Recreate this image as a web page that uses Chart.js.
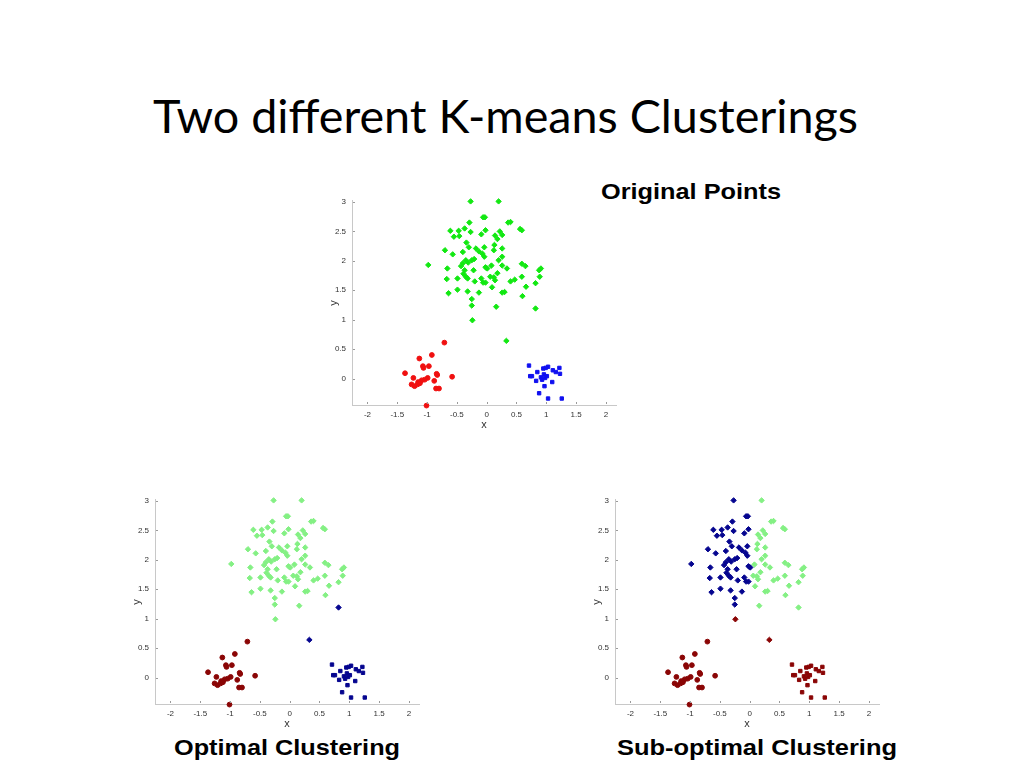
<!DOCTYPE html>
<html><head><meta charset="utf-8">
<script src="https://cdn.jsdelivr.net/npm/chart.js@4.4.1/dist/chart.umd.min.js"></script>
<style>
html,body{margin:0;padding:0;background:#fff;width:1024px;height:768px;overflow:hidden;}
.box{position:absolute;width:310px;height:245px;}
.txt{position:absolute;white-space:nowrap;line-height:1;transform-origin:0 0;color:#000;}
#title{font-family:Lato,'Open Sans',sans-serif;font-size:46px;}
.sub{font-family:'Liberation Sans',Arial,sans-serif;font-weight:bold;font-size:22px;}
</style></head><body>
<div id="title" class="txt" data-w="705" style="left:153px;top:92.5px">Two different K-means Clusterings</div>
<div class="txt sub" data-w="180" style="left:601px;top:180.7px">Original Points</div>
<div class="txt sub" data-w="226" style="left:174px;top:737.4px">Optimal Clustering</div>
<div class="txt sub" data-w="280" style="left:617px;top:737.4px">Sub-optimal Clustering</div>
<div class="box" style="left:319.8px;top:190.1px"><canvas id="c1"></canvas></div>
<div class="box" style="left:123.2px;top:489.1px"><canvas id="c2"></canvas></div>
<div class="box" style="left:583.2px;top:489.1px"><canvas id="c3"></canvas></div>
<script>
// ---- data ----
const xTicks = [-2, -1.5, -1, -0.5, 0, 0.5, 1, 1.5, 2];
const yTicks = [0, 0.5, 1, 1.5, 2, 2.5, 3];
const xMin = -2.26, xMax = 2.17, yMin = -0.45, yMax = 3.02;

// circles (cluster around -1, 0)
const circleX = [-0.71,-1.13,-0.92,-1.07,-0.97,-1.06,-1.37,-1.23,-0.84,-0.83,-0.58,-1.04,-0.99,-1.09,-1.15,-0.88,-1.26,-1.21,-1.16,-1.12,-0.85,-0.80,-1.01];
const circleY = [0.61,0.34,0.40,0.21,0.21,0.18,0.09,0.01,0.08,0.06,0.03,-0.02,0.01,-0.03,-0.06,-0.04,-0.10,-0.13,-0.10,-0.08,-0.17,-0.17,-0.46];

// squares (cluster around 1, 0)
const squareX = [0.71,1.03,0.95,0.99,1.22,1.11,0.85,1.16,1.23,0.96,0.73,0.76,0.91,0.98,0.93,0.83,1.10,0.97,0.88,1.03,1.26,1.01];
const squareY = [0.22,0.20,0.17,0.18,0.18,0.14,0.11,0.11,0.08,0.07,0.04,0.04,0.02,0.01,-0.02,-0.04,-0.06,-0.13,-0.25,-0.34,-0.34,0.04];

// diamonds, left part of the big cluster
const diamondLeftX = [-0.27,-0.06,-0.03,-0.29,-0.61,-0.47,-0.37,-0.46,-0.55,-0.27,-0.02,-0.09,-0.34,-0.30,-0.70,-0.57,-0.40,-0.18,-0.13,-0.04,-0.07,-0.04,-0.21,-0.25,-0.35,-0.40,-0.31,-0.43,-0.37,-0.22,-0.02,0.01,-0.98,-0.66,-0.67,-0.49,-0.39,-0.35,-0.32,-0.20,-0.09,-0.06,-0.02,-0.64,-0.49,-0.32,-0.13,-0.25,-0.25];
const diamondLeftY = [3.01,2.74,2.74,2.65,2.51,2.51,2.55,2.42,2.41,2.49,2.52,2.45,2.31,2.23,2.18,2.11,2.15,2.21,2.16,2.23,2.12,2.07,2.03,2.01,2.01,1.96,1.97,1.91,1.84,1.84,1.89,1.87,1.93,1.87,1.69,1.70,1.78,1.73,1.70,1.65,1.70,1.63,1.63,1.45,1.51,1.48,1.46,1.35,1.24];

// diamonds, right part of the big cluster
const diamondRightX = [0.20,0.40,0.36,0.56,0.59,0.22,0.26,0.14,0.18,0.13,0.26,0.12,0.26,0.20,0.08,0.26,0.34,0.18,0.12,0.06,0.14,0.09,0.40,0.47,0.59,0.59,0.65,0.66,0.82,0.88,0.91,0.89,0.26,0.30,0.60,0.16];
const diamondRightY = [3.01,2.66,2.65,2.54,2.52,2.50,2.44,2.43,2.37,2.27,2.21,2.18,2.07,2.01,1.92,1.92,1.87,1.79,1.72,1.73,1.67,1.55,1.65,1.68,1.73,1.95,1.91,1.56,1.62,1.84,1.87,1.73,1.46,1.47,1.40,1.22];

// diamonds lying between the clusters, and the cluster each one gets
const diamondOddX = [-0.24, 0.33, 0.82];
const diamondOddY = [0.99, 0.64, 1.19];
const oddOptimal = ['lightgreen', 'navy', 'navy'];
const oddSubOptimal = ['darkred', 'darkred', 'lightgreen'];

// ---- helpers ----
const COL = {green:'#12e812', red:'#f01010', blue:'#1010f0', darkred:'#8a0505', navy:'#05058f', lightgreen:'#84f084'};
const pts = (xs, ys) => xs.map((v, i) => ({x: v, y: ys[i]}));
const pick = (xs, labels, want) => xs.filter((v, i) => labels[i] === want);

function ds(data, shape, color) {
  const r = shape === 'circle' ? 2.4 : shape === 'rect' ? 2.4 : 2.7;
  return {data, pointStyle: shape, pointRadius: r, pointHoverRadius: r,
    backgroundColor: color, borderColor: color, borderWidth: 1, showLine: false, clip: false};
}

const inwardTicks = {
  id: 'inwardTicks',
  afterDraw(chart) {
    const {ctx, chartArea: a, scales: {x, y}} = chart;
    ctx.save();
    ctx.strokeStyle = '#9a9a9a'; ctx.lineWidth = 1;
    x.ticks.forEach(t => { const p = Math.round(x.getPixelForValue(t.value)) + 0.5;
      ctx.beginPath(); ctx.moveTo(p, a.bottom - 1); ctx.lineTo(p, a.bottom - 3); ctx.stroke(); });
    y.ticks.forEach(t => { const p = Math.round(y.getPixelForValue(t.value)) + 0.5;
      ctx.beginPath(); ctx.moveTo(a.left + 1, p); ctx.lineTo(a.left + 3, p); ctx.stroke(); });
    ctx.restore();
  }
};

function axis(isX) {
  return {
    type: 'linear',
    min: isX ? xMin : yMin, max: isX ? xMax : yMax,
    afterFit(s) { if (isX) s.height = 30; else s.width = 32; },
    afterBuildTicks(s) { s.ticks = (isX ? xTicks : yTicks).map(v => ({value: v})); },
    grid: {display: false, drawTicks: false},
    border: {display: true, color: '#c8c8c8', width: 1},
    ticks: {font: {family: 'Liberation Sans', size: 8}, color: '#333', padding: isX ? 5 : 6,
      autoSkip: false, maxRotation: 0, callback: v => String(v)},
    title: {display: true, text: isX ? 'x' : 'y', font: {family: 'Liberation Sans', size: 11},
      color: '#333', padding: isX ? {top: 0, bottom: 3} : {top: 7, bottom: 0}}
  };
}

function make(id, datasets) {
  new Chart(document.getElementById(id), {
    type: 'scatter',
    data: {datasets},
    options: {
      responsive: true, maintainAspectRatio: false, animation: false,
      events: [],
      layout: {padding: {top: 8, right: 14, left: 0, bottom: 0}},
      plugins: {legend: {display: false}, tooltip: {enabled: false}},
      scales: {x: axis(true), y: axis(false)}
    },
    plugins: [inwardTicks]
  });
}

const allDiamondX = diamondLeftX.concat(diamondRightX, diamondOddX);
const allDiamondY = diamondLeftY.concat(diamondRightY, diamondOddY);

make('c1', [
  ds(pts(circleX, circleY), 'circle', COL.red),
  ds(pts(squareX, squareY), 'rect', COL.blue),
  ds(pts(allDiamondX, allDiamondY), 'rectRot', COL.green)
]);

make('c2', [
  ds(pts(circleX, circleY), 'circle', COL.darkred),
  ds(pts(squareX, squareY), 'rect', COL.navy),
  ds(pts(diamondLeftX.concat(diamondRightX, pick(diamondOddX, oddOptimal, 'lightgreen')),
         diamondLeftY.concat(diamondRightY, pick(diamondOddY, oddOptimal, 'lightgreen'))), 'rectRot', COL.lightgreen),
  ds(pts(pick(diamondOddX, oddOptimal, 'navy'), pick(diamondOddY, oddOptimal, 'navy')), 'rectRot', COL.navy)
]);

make('c3', [
  ds(pts(circleX, circleY), 'circle', COL.darkred),
  ds(pts(squareX, squareY), 'rect', COL.darkred),
  ds(pts(diamondLeftX, diamondLeftY), 'rectRot', COL.navy),
  ds(pts(diamondRightX.concat(pick(diamondOddX, oddSubOptimal, 'lightgreen')),
         diamondRightY.concat(pick(diamondOddY, oddSubOptimal, 'lightgreen'))), 'rectRot', COL.lightgreen),
  ds(pts(pick(diamondOddX, oddSubOptimal, 'darkred'), pick(diamondOddY, oddSubOptimal, 'darkred')), 'rectRot', COL.darkred)
]);

// stretch text horizontally to the slide's widths
document.querySelectorAll('.txt').forEach(el => {
  const w = el.getBoundingClientRect().width;
  el.style.transform = 'scaleX(' + (parseFloat(el.dataset.w) / w) + ')';
});
</script>
</body></html>
